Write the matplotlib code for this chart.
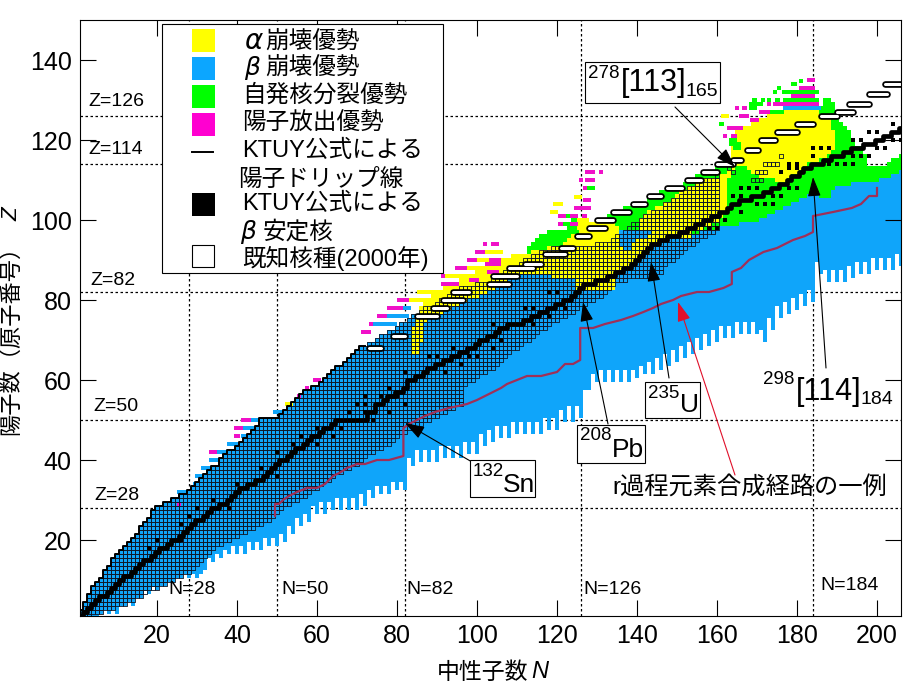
# -*- coding: utf-8 -*-
import matplotlib
matplotlib.use('Agg')
import matplotlib.pyplot as plt
from matplotlib.patches import Rectangle
from matplotlib.lines import Line2D
import numpy as np

plt.rcParams['font.family'] = ['Liberation Sans', 'Noto Sans CJK JP', 'DejaVu Sans']

YELLOW = '#ffff00'
BLUE = '#0fa5fa'
GREEN = '#00ff00'
MAGENTA = '#f010c8'
RED_LINE = '#a03058'

# per neutron number, N = 1..206: lowest Z with a colour (teeth at the bottom)
blue_bottom = [1,1,1,1,1,2,3,2,3,2, 4,4,5,4,6,6,8,7,9,8, 9,9,10,10,11,11,12,11,12,11,
               12,13,16,15,17,16,18,17,19,17, 19,17,20,18,20,18,21,19,21,19,
               22,20,24,22,26,24,27,25,29,27, 30,27,30,28,31,28,31,28,31,28,
               32,29,33,31,34,32,34,32,35,33, 35,33,41,39,43,40,43,40,43,40,
               44,41,44,41,44,41,45,42,45,42, 47,44,48,45,49,46,49,46,50,47,
               50,47,50,47,50,47,51,48,51,48, 53,50,54,50,54,51,58,58,62,60,
               63,60,63,60,63,60,63,60,63,61, 64,62,65,62,66,63,67,64,68,65,
               69,66,70,67,71,68,72,69,73,70, 74,71,74,71,75,72,75,72,75,72,
               73,70,76,73,79,76,80,77,81,78, 82,79,83,80,90,87,88,85,88,85,
               88,85,89,86,90,87,90,87,91,88, 91,88,91,88,92,89]

# known nuclei, N = 1..160
known_hi = [2,4,6,8,9,10,12,13,15,16, 17,18,19,20,21,23,24,25,27,28,
            28,29,29,30,30,31,31,32,33,34, 35,36,37,38,38,40,41,42,42,43,
            44,45,46,47,48,50,50,50,50,50, 51,52,53,54,55,56,57,57,58,58,
            59,60,61,62,63,63,64,65,66,67, 68,68,69,69,70,71,71,72,72,73,
            74,74,75,76,76,77,78,78,78,79, 80,80,81,82,82,83,83,83,83,84,
            84,84,84,85,85,86,87,88,88,88, 89,90,90,91,91,92,92,92,93,93,
            93,93,93,93,93,93,93,93,93,94, 94,94,94,95,96,96,97,98,99,99,
            100,101,101,102,102,102,104,104,105,105, 106,107,108,108,109,110,110,110,110,111]
known_lo = [1,1,1,2,2,2,3,3,3,4, 4,4,5,5,6,6,7,8,8,8,
            9,9,10,10,11,11,12,12,13,14, 15,16,17,18,19,19,20,20,21,21,
            22,22,23,23,24,24,25,25,26,27, 28,29,29,30,30,31,31,32,33,33,
            34,35,35,36,37,37,38,38,39,39, 40,41,42,42,43,43,44,44,45,46,
            47,47,48,48,49,49,50,50,51,51, 52,52,53,53,54,54,59,60,60,61,
            62,62,63,63,64,65,66,67,68,68, 69,70,70,71,72,73,73,74,75,75,
            76,76,77,77,78,79,79,80,80,81, 81,82,83,84,85,85,85,86,86,86,
            86,86,86,87,87,87,89,90,90,91, 92,93,94,94,95,96,96,97,97,98]
known_extra_n = [163,164,172,173,174,175,176,170,171,172,169,170,171]
known_extra_z = [113,112,114,114,114,114,116,112,112,112,110,110,110]

# blue top for N = 136..206 (below that it runs up to the known nuclei)
blue_top_high = [98,98,98,98,98,99,99,99,99,99,99,
                 98,98,98,98,97,97,97,97,97,98,98,98,98,99,
                 99,99,99,99,99,100,100,100,100,100,
                 101,101,102,102,103,103,104,104,105,105,
                 106,106,107,107,107,106,106,106,108,109,
                 109,109,109,110,110,110,110,110,110,110,111,111,111,112,112,113]

# green band, N = 113..206
green_hi = [93,94,95,96,96,97,97,97,97,97, 99,100,100,98,98,98,98,99,99,100,
            101,101,102,102,103,103,104,104,104,104, 105,106,106,107,107,108,108,108,108,109,
            110,110,111,111,112,112,112,113,114,115, 115,116,118,119,120,121,122,123,124,125,
            126,126,127,127,128,128,128,128,128,128, 128,128,128,128,130,130,129,125,124,123,
            122,119,118,118,116,113,113,113,113,113, 114,115,115,116]

# alpha region columns, N = 84..189
yellow_lo = [67,67,70,75,76,76,77,77,78,78, 79,79,80,80,81,81,81,82,82,83,
             83,84,84,85,86,87,87,87,87,87, 87,87,87,87,87,86,86,86,86,86,
             86,83,83,83,83,83,83,83,83,83, 83,88,88,88,89,90,91,92,93,94,
             94,95,95,96,96,96,96,96,96,96, 98,98,98,99,99,100,100,101,102,111,
             113,114,114,114,113,112,112,111,111,111, 111,110,110,110,111,112,112,113,114,115,
             115,115,116,116,117,118]
yellow_hi = [73,75,78,80,80,81,82,82,83,84, 84,84,85,85,85,86,87,87,88,88,
             88,89,90,90,90,91,91,91,91,91, 92,92,92,92,93,93,93,93,94,95,
             96,96,97,98,99,99,99,99,99,99, 99,98,93,92,92,94,95,95,95,96,
             97,97,98,98,99,99,100,107,107,108, 108,109,110,110,110,110,110,111,111,112,
             120,122,122,123,123,124,124,125,125,126, 126,126,127,127,127,127,127,127,127,127,
             127,127,126,126,125,122]
# upper patch of the same region, N = 141..150
yellow2_lo = [98,98,98,98,98,98,99,99,100,100]
yellow2_hi = [100,101,102,102,103,103,104,104,105,106]

# KTUY beta stable line, N = 1..206
stable_z = [1,2,3,4,5,6,6,7,8,9, 10,11,11,12,13,14,15,15,16,17,
            18,18,19,20,20,21,22,23,24,25, 25,26,27,28,28,29,29,30,31,32,
            33,33,34,34,35,35,36,37,38,39, 40,40,41,42,43,43,44,45,46,46,
            47,48,48,49,50,50,50,50,50,50, 50,50,52,52,54,54,55,56,56,57,
            57,58,60,60,61,61,62,63,63,64, 64,65,65,66,66,67,67,68,68,69,
            70,70,71,71,72,73,73,74,74,74, 74,75,75,76,76,77,77,78,78,79,
            79,80,80,81,82,83,84,84,84,85, 85,85,86,86,87,87,88,88,89,90,
            91,92,93,94,94,95,95,96,96,96, 97,97,98,98,99,99,100,100,101,101,
            102,102,103,104,104,105,105,105,106,106, 106,107,107,108,108,109,109,110,111,111,
            112,113,113,114,114,114,115,115,116,116, 116,117,117,118,118,118,119,119,119,120,
            120,121,121,122,122,123]
stable_spot_n = [184,186,188,184,180,178,178,180,176,178,180,166,168,170,164,166,174,176,170,172,174,
                 162,160,158,166,194,196,194,196,198,188,190,192,194,200,202,198,200,204,204,206,
                 46,50,40,34,28,30,38,26,20,26,18,50,54,60,56,60,66,64,70,72,68,72,
                 78,72,76,80,82,78,74,82,88,90,98,100,94,96,92,104,104,106,112,114,114,118,120,118,122]
stable_spot_z = [118,118,118,116,114,114,113,113,112,108,108,108,108,108,106,106,106,106,104,104,104,
                 100,98,98,102,120,120,116,116,116,114,114,114,114,118,118,122,122,124,120,120,
                 38,42,34,30,26,28,28,24,20,20,18,36,44,44,46,48,48,46,54,54,52,52,
                 58,56,56,56,54,52,50,62,66,66,66,66,68,64,62,74,68,70,78,78,74,76,82,82,78]

# KTUY proton drip line, pills from N = 73 up
drip_n0 = [73,79,85,89,91.5,94,103,104,108,112,117,121,125,128,130,134,139,143,147.5,152.5,156.5,160,164,167.5,171,175,180,186,190,193,198,202]
drip_n1 = [76,82,90,92.5,96.5,98,108,110,114,116,122,124,128,132,134,138,142,146,151.2,156,160,164,166,170.3,174.5,180,184,190,194,198,202.5,206]
drip_z = [68,71,76,78,80,82,84,86,88,89,91.5,93,96,98,100,102,104,106,108,110,112,114,115,117.5,120,122,124,126,127,129,131.5,134]

# r process path
r_n = [49.5,49.5,50.5,51.5,53,55,57.5,60,62,64,66,67.5,70,72,75,78,81.6,81.6,83,85,87,89.5,93,97.5,100,102,104,106,107.5,110,112.5,116,120,122,124,125.8,125.8,129,132,136,139,141.6,144,146,149,151,155,158,161.6,163.7,163.7,166,168,171.6,175,179,182,184,184,189,193.7,196,198,200,200]
r_z = [26,29,29,30,31,32,33,33,34,36,37,38,39,39,40,40,41,48,49,50,51,52,53,54,55,56,57,58,59,60,61,61,62,64,64,65,73,73,74,75,76,77,78,79,80,81,82,82,83,84,87,88,90,92,93,95,96,97,101,102,103,104,106,106,108]

# fringe rows outside the drip line
fblue_z = [29,32,34,36,38,40,42,44,46,48,50,52,74,76,78]
fblue_n0 = [23,25,29,29.5,31,33,35,37.5,41,41.5,43.5,49,74,77.5,81.5]
fblue_n1 = [25,27.5,30,32.5,34.5,37,39,41,44,46,47,51.5,80,83,83.5]
fmag_z = [29,42,46,48,50,56,58,60,72,74,76,78,80,84,86,88,89,90,90,92,94,94,85,87,112,112,110,110,108,105,103,101,101,101,99,99,
          135,133,131,129,129,128,128,127,126,125,123,121,121]
fmag_n0 = [25,33,39.3,39.3,41,55,57,59,71,73,75,77.5,80,91,91,94.5,102,97.5,103,99.5,101.5,103.5,98,102.5,127,130.5,125.5,127,126.5,126.5,124.2,120.3,123.2,126.3,123.2,120.3,
           182.5,180.5,178.5,174,172.5,164.5,166.3,170.5,165.5,168.3,162.5,161.5,163.5]
fmag_n1 = [26,35,40.8,41.5,43.5,56,58,61,73.5,74,77.5,81.5,83,95.5,92,97.5,106,100,106,102,102.5,105.5,100.5,105.5,129.5,131.5,126.5,129.5,127.5,128.5,128.5,122.3,125.3,127.5,125.3,121.5,
           184.5,184.5,184.5,185.5,173.5,165.5,167.5,173.2,168,170.4,166.5,162.5,165]
fyel_z = [54,82,80,84,86,88,90,92,105.8,104,102,100,99,98,126]
fyel_n0 = [52,85,83,95.5,92,97.5,100,102,124.2,119,118.3,125,125,125,161]
fyel_n1 = [54,96,92,98,100,104,103,106.5,126.2,121.5,120.3,128,128,128,163]
fgrn_z = [134.8,134,133,132,132,130,130,130,130,130,129,128,127,124,120,119,118,108,101,99]
fgrn_n0 = [180.5,178.5,175,174,176.3,168.7,171,172.5,174.5,176.5,168,168,171,160.5,163,163,164,127.5,121.5,121.5]
fgrn_n1 = [181.5,180,176,175,185.5,170,172,173.5,175.7,185.5,171.5,170,176.7,161.7,165,166,166,129.5,124,124]
fblu2_z = [128]
fblu2_n0 = [176.5]
fblu2_n1 = [186]

xticks = [20,40,60,80,100,120,140,160,180,200]
yticks = [20,40,60,80,100,120,140]
magic_n = [28,50,82,126,184]
magic_z = [28,50,82,114,126]

W, H = 920, 688


def fx(x):
    return x / W


def fy(y):
    return 1 - y / H


def ptext(x, y, s, size, ha='left', **kw):
    # text placed in picture pixels
    return fig.text(fx(x), fy(y), s, fontsize=size, ha=ha, va='center', zorder=30, **kw)


def pbox(x0, y0, x1, y1, fc='white', ec='black', lw=0.8, z=20):
    r = Rectangle((fx(x0), fy(y1)), fx(x1 - x0), y1 / H - y0 / H, transform=fig.transFigure,
                  facecolor=fc, edgecolor=ec, linewidth=lw, zorder=z)
    fig.add_artist(r)


fig = plt.figure(figsize=(9.2, 6.88), dpi=100)
ax = fig.add_axes([fx(80), fy(616), fx(821), (616 - 20) / H])

N = np.arange(1, 207)
blue_bottom = np.array(blue_bottom)
blue_top = np.array(known_hi[:135] + blue_top_high)

for m in magic_n:
    ax.axvline(m, color='k', lw=0.9, ls=(0, (2, 2)), zorder=0.5)
for m in magic_z:
    ax.axhline(m, color='k', lw=0.9, ls=(0, (2, 2)), zorder=0.5)

ax.bar(N, blue_top - blue_bottom + 1, bottom=blue_bottom - 0.5, width=1.0, color=BLUE, linewidth=0, zorder=1)

gN = np.arange(113, 207)
glo = np.minimum(blue_top[gN - 1], np.array(green_hi))
ax.bar(gN, np.array(green_hi) - glo + 1, bottom=glo - 0.5, width=1.0, color=GREEN, linewidth=0, zorder=1.2)

yN = np.arange(84, 190)
ax.bar(yN, np.array(yellow_hi) - np.array(yellow_lo) + 1, bottom=np.array(yellow_lo) - 0.5, width=1.0,
       color=YELLOW, linewidth=0, zorder=1.4)
y2N = np.arange(141, 151)
ax.bar(y2N, np.array(yellow2_hi) - np.array(yellow2_lo) + 1, bottom=np.array(yellow2_lo) - 0.5, width=1.0,
       color=YELLOW, linewidth=0, zorder=1.4)

for zz, n0, n1, c in [(fgrn_z, fgrn_n0, fgrn_n1, GREEN), (fblue_z, fblue_n0, fblue_n1, BLUE),
                      (fyel_z, fyel_n0, fyel_n1, YELLOW), (fblu2_z, fblu2_n0, fblu2_n1, BLUE),
                      (fmag_z, fmag_n0, fmag_n1, MAGENTA)]:
    ax.barh(zz, np.array(n1) - np.array(n0), left=n0, height=1.0, color=c, linewidth=0, zorder=1.6)

# known nuclei as small open squares
kn, kz = [], []
for i in range(len(known_hi)):
    for z in range(known_lo[i], known_hi[i] + 1):
        kn.append(i + 1)
        kz.append(z)
kn += known_extra_n
kz += known_extra_z
ax.scatter(kn, kz, marker='s', s=9.5, facecolors='none', edgecolors='#101828', linewidths=0.62, zorder=3)

# stable line
ax.step(N, stable_z, where='mid', color='black', lw=3.4, zorder=4)
ax.scatter(stable_spot_n, stable_spot_z, marker='s', s=9, color='black', linewidths=0, zorder=4)

# drip line: staircase low down, pills further up
ax.step(N[:72], np.array(known_hi[:72]) + 0.5, where='mid', color='black', lw=1.4, zorder=5)
for n0, n1, z in zip(drip_n0, drip_n1, drip_z):
    ax.plot([n0, n1], [z, z], color='black', lw=4.8, solid_capstyle='round', zorder=5)
    ax.plot([n0, n1], [z, z], color='white', lw=2.2, solid_capstyle='round', zorder=5.1)

ax.plot(r_n, r_z, color=RED_LINE, lw=1.6, zorder=6)

ax.set_xlim(0.75, 206)
ax.set_ylim(1, 150)
ax.set_xticks(xticks)
ax.set_yticks(yticks)
ax.tick_params(direction='in', length=11.5, width=0.8, top=True, right=True, labelsize=18, pad=6)
for s in ax.spines.values():
    s.set_linewidth(0.8)
    s.set_zorder(8)

# arrows
arrow_kw = dict(arrowstyle='-|>,head_length=0.75,head_width=0.25', mutation_scale=16, shrinkA=0, shrinkB=0, lw=0.8)
for tail, tip, col in [((98.75, 39.5), (82, 49.25), 'black'), ((132.75, 49), (126.5, 79.5), 'black'),
                       ((148, 60.5), (143.5, 89.5), 'black'), ((187.25, 63), (184, 110.75), 'black'),
                       ((149.5, 128.25), (164.5, 113.25), 'black'), ((164.5, 36.25), (150.25, 79.5), '#e0102a')]:
    ax.annotate('', xy=tip, xytext=tail, arrowprops=dict(color=col, **arrow_kw), zorder=7,
                annotation_clip=False)

# axis titles
ptext(437, 672, '中性子数', 16.5)
ptext(531, 672, 'N', 17, style='italic')
fig.text(fx(12), fy(335), '陽子数（原子番号）', fontsize=16, rotation=90, ha='center', va='center', zorder=30)
fig.text(fx(12), fy(214), 'Z', fontsize=16, rotation=90, style='italic', ha='center', va='center', zorder=30)

# magic number labels
for x, y, s in [(168, 589, 'N=28'), (281, 589, 'N=50'), (406, 589, 'N=82'), (583, 589, 'N=126'), (820, 586, 'N=184'),
                (88, 102, 'Z=126'), (88, 150, 'Z=114'), (90, 281, 'Z=82'), (93, 406, 'Z=50'), (94, 496, 'Z=28')]:
    ptext(x, y, s, 14)

# legend
pbox(162, 24, 443, 273)
for y0, y1, c in [(29, 52, YELLOW), (57, 80, '#0ca6ff'), (85, 108, GREEN), (113, 136, '#ff00d0'), (193, 216, 'black')]:
    pbox(192, y0, 215, y1, fc=c, ec=c, lw=0, z=21)
pbox(192, 245, 214, 267, z=21)
fig.add_artist(Line2D([fx(192), fx(213)], [fy(152), fy(152)], color='black', lw=1.4, zorder=21))
LS = 17
ptext(244, 41, 'α', LS + 3, style='italic', family='DejaVu Sans')
ptext(265, 41, '崩壊優勢', LS)
ptext(244, 68, 'β', LS + 1, style='italic', family='DejaVu Sans')
ptext(265, 68, '崩壊優勢', LS)
ptext(242, 96, '自発核分裂優勢', LS)
ptext(242, 124, '陽子放出優勢', LS)
ptext(242, 151, 'KTUY公式による', LS)
ptext(238, 180, '陽子ドリップ線', LS)
ptext(242, 204, 'KTUY公式による', LS)
ptext(240, 232, 'β', LS + 1, style='italic', family='DejaVu Sans')
ptext(263, 232, '安定核', LS)
ptext(242, 258, '既知核種(2000年)', LS)

# isotope labels
pbox(470, 460, 535, 497)
ptext(473, 471, '132', 13.5)
ptext(503, 485, 'Sn', 19)
pbox(577, 425, 645, 463)
ptext(580, 436, '208', 13.5)
ptext(612, 450, 'Pb', 19)
pbox(645, 382, 700, 418)
ptext(648, 393, '235', 13.5)
ptext(680, 405, 'U', 19)
pbox(585, 62, 720, 103)
ptext(588, 74, '278', 13.5)
ptext(621, 83, '[113]', 22)
ptext(686, 92, '165', 14)
ptext(763, 379, '298', 13.5)
ptext(796, 392, '[114]', 22)
ptext(861, 400, '184', 14)
ptext(612, 488, 'r過程元素合成経路の一例', 17.5)

fig.savefig('out.png', dpi=100)
